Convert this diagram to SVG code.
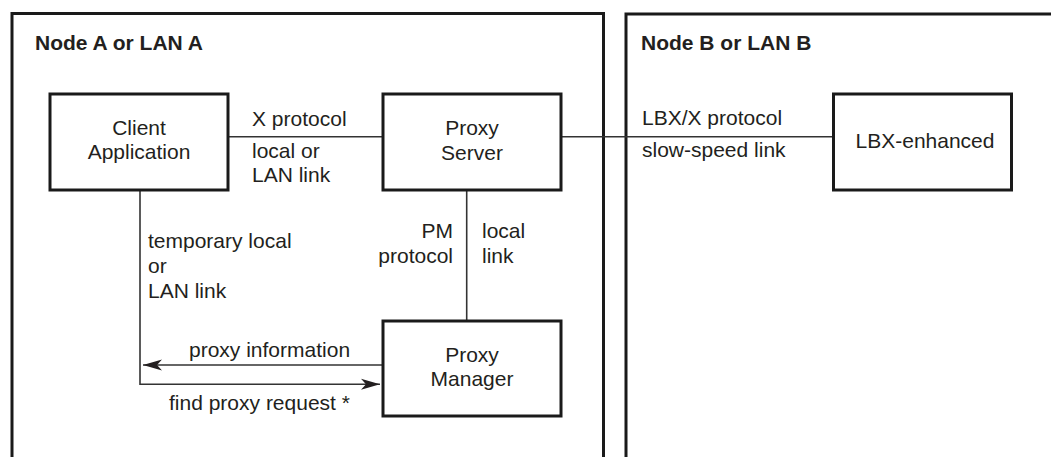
<svg xmlns="http://www.w3.org/2000/svg" width="1051" height="457" viewBox="0 0 1051 457">
  <style>
    .region { fill: none; stroke: #1a1a1a; stroke-width: 3; }
    .box { fill: #ffffff; stroke: #1a1a1a; stroke-width: 3; }
    .wire { fill: none; stroke: #333333; stroke-width: 1.6; }
    text { font-family: "Liberation Sans", Arial, Helvetica, sans-serif; font-size: 21px; fill: #231f20; }
    .title { font-weight: bold; }
    .mid { text-anchor: middle; }
    .end { text-anchor: end; }
  </style>
  <defs>
    <marker id="arrow" markerUnits="userSpaceOnUse" markerWidth="22" markerHeight="14" viewBox="-1 -7 22 14" refX="19" refY="0" orient="auto">
      <path d="M0,-5.5 L19,0 L0,5.5 L5,0 Z" fill="#231f20"/>
    </marker>
  </defs>

  <rect width="1051" height="457" fill="#ffffff"/>

  <!-- Two network regions, open at the bottom / right edge -->
  <g id="region-a">
    <path class="region" d="M12,470 V13.5 H603.5 V470"/>
    <text class="title" x="35" y="50">Node A or LAN A</text>
  </g>
  <g id="region-b">
    <path class="region" d="M626,470 V14 H1060"/>
    <text class="title" x="641" y="50">Node B or LAN B</text>
  </g>

  <!-- Connectors -->
  <g id="connectors">
    <line class="wire" x1="228" y1="136.7" x2="383" y2="136.7"/>
    <line class="wire" x1="561" y1="136.7" x2="833" y2="136.7"/>
    <line class="wire" x1="466.7" y1="190" x2="466.7" y2="321"/>
    <line class="wire" x1="383" y1="365" x2="143" y2="365" marker-end="url(#arrow)"/>
    <path class="wire" d="M140,190 V384.3 H380" marker-end="url(#arrow)"/>

    <text x="252" y="126">X protocol</text>
    <text x="252" y="158">local or</text>
    <text x="252" y="182">LAN link</text>

    <text x="642" y="125">LBX/X protocol</text>
    <text x="642" y="157">slow-speed link</text>

    <text class="end" x="453" y="238">PM</text>
    <text class="end" x="453" y="263">protocol</text>
    <text x="482" y="238">local</text>
    <text x="482" y="263">link</text>

    <text x="148" y="248">temporary local</text>
    <text x="148" y="273">or</text>
    <text x="148" y="297.5">LAN link</text>

    <text x="189" y="357">proxy information</text>
    <text x="169" y="410">find proxy request *</text>
  </g>

  <!-- Nodes -->
  <g id="client-application">
    <rect class="box" x="50" y="94" width="178" height="96"/>
    <text class="mid" x="139" y="135">Client</text>
    <text class="mid" x="139" y="159">Application</text>
  </g>
  <g id="proxy-server">
    <rect class="box" x="383" y="94" width="178" height="96"/>
    <text class="mid" x="472" y="135">Proxy</text>
    <text class="mid" x="472" y="160">Server</text>
  </g>
  <g id="proxy-manager">
    <rect class="box" x="383" y="321" width="178" height="95"/>
    <text class="mid" x="472" y="362">Proxy</text>
    <text class="mid" x="472" y="386">Manager</text>
  </g>
  <g id="lbx-enhanced">
    <rect class="box" x="833.5" y="94" width="178" height="96"/>
    <text class="mid" x="925" y="148">LBX-enhanced</text>
  </g>
</svg>
